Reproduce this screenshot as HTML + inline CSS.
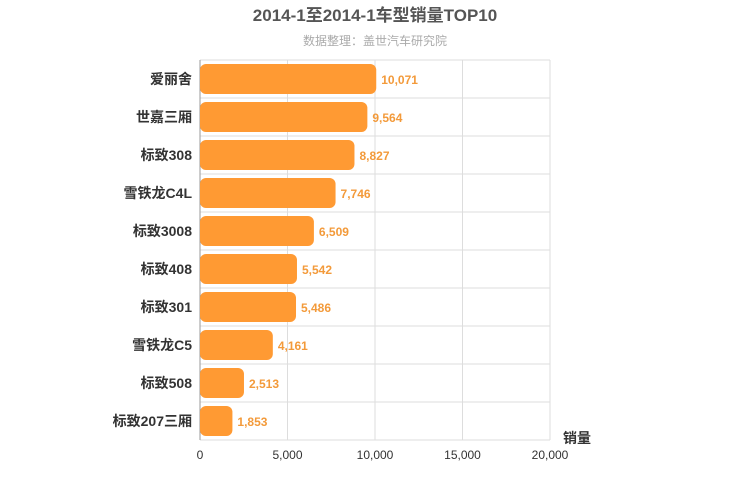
<!DOCTYPE html>
<html><head><meta charset="utf-8"><style>
html,body{margin:0;padding:0;background:#fff;}
svg{display:block;font-family:"Liberation Sans","Noto Sans CJK SC",sans-serif;}
</style></head><body>
<svg id="chart" width="750" height="500">
<text x="375" y="21" text-anchor="middle" font-size="17" font-weight="bold" fill="#555">2014-1至2014-1车型销量TOP10</text>
<text x="375" y="45" text-anchor="middle" font-size="12" fill="#aaa">数据整理：盖世汽车研究院</text>
<g id="grid"></g><g id="bars"></g><g id="labels"></g>
<text x="563" y="443" font-size="14" font-weight="bold" fill="#333">销量</text>
</svg>
<script>
const categories=["爱丽舍","世嘉三厢","标致308","雪铁龙C4L","标致3008","标致408","标致301","雪铁龙C5","标致508","标致207三厢"];
const values=[10071,9564,8827,7746,6509,5542,5486,4161,2513,1853];
const ticks=[0,5000,10000,15000,20000];
const tickLabels=["0","5,000","10,000","15,000","20,000"];
const X0=200,X1=550,Y0=60,Y1=440,MAX=20000;
const xs=v=>X0+(v/MAX)*(X1-X0);
const band=(Y1-Y0)/categories.length;
const ns="http://www.w3.org/2000/svg";
function mk(t,a,p){const e=document.createElementNS(ns,t);for(const k in a)e.setAttribute(k,a[k]);p.appendChild(e);return e;}
const grid=document.getElementById('grid'),bars=document.getElementById('bars'),labels=document.getElementById('labels');
for(let i=0;i<=categories.length;i++){
 const l=mk('line',{x1:X0,x2:X1,y1:Y0+i*band,y2:Y0+i*band,stroke:'#ddd','stroke-width':1},grid);
 
 
}
ticks.forEach((t,i)=>{
 const l=mk('line',{x1:xs(t),x2:xs(t),y1:Y0,y2:Y1,stroke:i==0?'#999':'#ddd','stroke-width':1},grid);
 
 
 const tx=mk('text',{x:xs(t),y:Y1+19,'text-anchor':'middle','font-size':12,fill:'#333'},labels);
 tx.textContent=tickLabels[i];
 
 
});
categories.forEach((c,i)=>{
 const y=Y0+i*band;
 const r=mk('rect',{x:X0,y:y+4,width:xs(values[i])-X0,height:band-8,rx:6,ry:6,fill:'#ff9a33'},bars);
 
 
 const cl=mk('text',{x:192,y:y+band/2+5,'text-anchor':'end','font-size':14,'font-weight':'bold',fill:'#333'},labels);
 cl.textContent=c;
 
 
 const vl=mk('text',{x:xs(values[i])+5,y:y+band/2+5,'font-size':12,'font-weight':'600',fill:'#f39a3a'},labels);
 vl.textContent=values[i].toLocaleString('en-US');
 
 
});
</script>
</body></html>
